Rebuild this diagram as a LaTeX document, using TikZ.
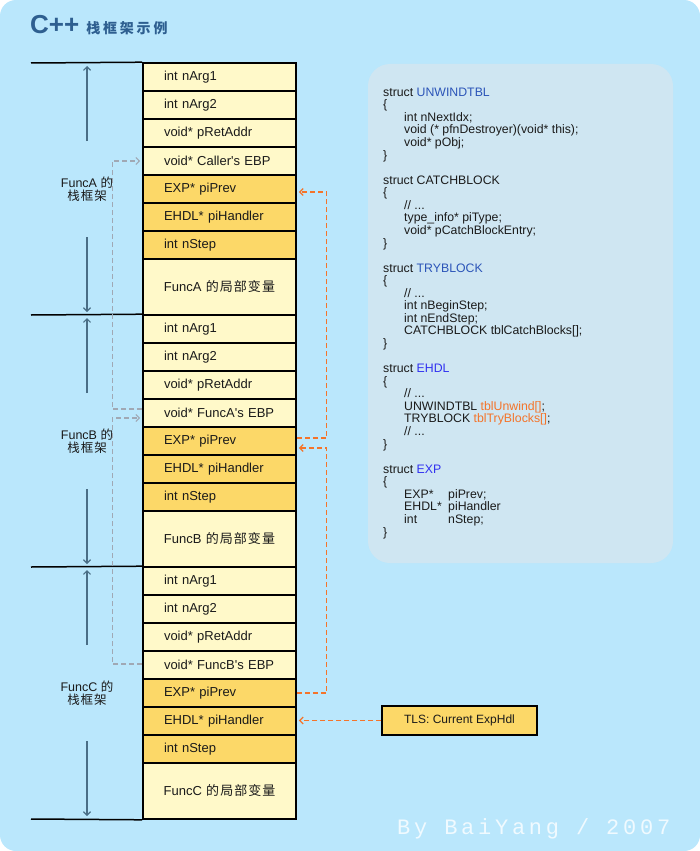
\documentclass[tikz,border=0pt]{standalone}
\usepackage{fontspec}
\setmainfont{Liberation Sans}
\newfontfamily\plainf{Liberation Sans}
\newfontfamily\cjk{Noto Sans CJK SC}
\newfontfamily\cjks[LetterSpace=8]{Noto Sans CJK SC}
\newfontfamily\cjkt[LetterSpace=20]{Noto Sans CJK SC}
\newfontfamily\wmfont[LetterSpace=17]{Liberation Mono}
\usetikzlibrary{arrows.meta}
\definecolor{bgblue}{HTML}{BAE7FC}
\definecolor{panelc}{HTML}{CFE6F2}
\definecolor{cLight}{HTML}{FFF9C9}
\definecolor{cGold}{HTML}{FCD868}
\definecolor{txt}{HTML}{1A1A1A}
\definecolor{dimc}{HTML}{4A6E86}
\definecolor{grayd}{HTML}{A0A8B4}
\definecolor{cOr}{HTML}{F4742A}
\definecolor{titlec}{HTML}{2E5F90}
\definecolor{cB1}{HTML}{2B54B8}
\definecolor{cB2}{HTML}{3030F0}
\definecolor{wmc}{HTML}{F0FAFF}
\newcommand\cind{\hspace*{21pt}}
\newcommand\apos{{\plainf'}}
\begin{document}
\begin{tikzpicture}[x=1pt,y=-1pt,
  row/.style={draw=black, line width=1.6pt, fill=cLight, minimum height=28pt,
    text width=111pt, inner xsep=21pt, inner ysep=0pt, align=left,
    font=\fontsize{13}{15}\selectfont, text=txt},
  goldrow/.style={row, fill=cGold},
  locals/.style={minimum height=56pt, text width=141pt, inner xsep=6pt, align=center},
  frameline/.style={draw=black, line width=1.5pt},
  dim/.style={draw=dimc, line width=1.2pt, -{Straight Barb[length=3.5pt,width=7pt]}},
  flabel/.style={align=center, inner sep=0pt, text=txt, font=\fontsize{12.5}{13}\selectfont},
  graydash/.style={draw=grayd, line width=1.2pt, dash pattern=on 5pt off 3pt,
    -{Straight Barb[length=3.5pt,width=7pt]}, shorten >=2pt},
  ordash/.style={draw=cOr, line width=1.3pt, dash pattern=on 5pt off 3pt,
    -{Straight Barb[length=3.5pt,width=7pt]}, shorten >=2pt},
  code/.style={anchor=north west, inner sep=0pt, align=left, text=txt,
    font=\fontsize{12.3}{12.57}\selectfont}
]
\useasboundingbox (0,0) rectangle (700,851);
\fill[white] (0,0) rectangle (700,851);
\fill[bgblue, rounded corners=16pt] (0,0) rectangle (700,851);
\fill[panelc, rounded corners=22pt] (368,64) rectangle (673,563);

% title
\node[anchor=west, inner sep=0pt, text=titlec] (title) at (30,25)
  {\fontsize{26}{26}\selectfont\bfseries C++\hspace{7pt}{\cjkt\fontsize{14}{14}\selectfont\bfseries 栈框架示例}};

% frames
\foreach \f/\T/\prev in {A/63/Caller\apos s, B/315/FuncA\apos s, C/567/FuncB\apos s}{
  \node[row] (\f1) at (219.5,\T+14) {int nArg1};
  \node[row] (\f2) at (219.5,\T+42) {int nArg2};
  \node[row] (\f3) at (219.5,\T+70) {void* pRetAddr};
  \node[row] (\f4) at (219.5,\T+98) {void* \prev\ EBP};
  \node[goldrow] (\f5) at (219.5,\T+126) {EXP* piPrev};
  \node[goldrow] (\f6) at (219.5,\T+154) {EHDL* piHandler};
  \node[goldrow] (\f7) at (219.5,\T+182) {int nStep};
  \node[row, locals] (\f8) at (219.5,\T+224) {Func\f\ {\cjks 的局部变量}};
  \coordinate (\f L) at (31,\T);
  \draw[frameline] (\f L) -- (\f1.north west);
  \node[flabel] (\f lab) at (87,\T+126.5) {Func\f\ {\cjk 的}\\{\cjks 栈框架}};
  \coordinate (\f ua) at (87,\T+78);
  \coordinate (\f u) at (87,\T+3);
  \coordinate (\f da) at (87,\T+174);
  \coordinate (\f d) at (87,\T+249);
  \draw[dim] (\f ua) -- (\f u);
  \draw[dim] (\f da) -- (\f d);
}
\coordinate (endL) at (31,819);
\draw[frameline] (endL) -- (C8.south west);

% EBP chain (gray)
\draw[graydash] ([yshift=4pt]B4.west) -- ++(-30,0) |- (A4.west);
\draw[graydash] ([yshift=1pt]C4.west) -- ++(-30,0) |- ([yshift=-5pt]B4.west);

% piPrev chain (orange)
\draw[ordash] ([yshift=3pt]B5.east) -- ++(30,0) |- ([yshift=-3pt]A5.east);
\draw[ordash] (C5.east) -- ++(30,0) |- ([yshift=-7pt]B5.east);

% TLS
\node[draw=black, line width=1.5pt, fill=cGold, minimum width=155pt, minimum height=29pt,
  inner sep=0pt, text=txt, font=\fontsize{12}{14}\selectfont] (tls) at (459.5,720.5) {TLS: Current ExpHdl};
\draw[ordash] (tls.west) -- (tls.west -| C6.east);

% code listing
\node[code] (code) at (383,87.5) {struct \textcolor{cB1}{UNWINDTBL}\\
\{\\
\cind int nNextIdx;\\
\cind void (* pfnDestroyer)(void* this);\\
\cind void* pObj;\\
\}\\[12.57pt]
struct CATCHBLOCK\\
\{\\
\cind // ...\\
\cind type\_info* piType;\\
\cind void* pCatchBlockEntry;\\
\}\\[12.57pt]
struct \textcolor{cB1}{TRYBLOCK}\\
\{\\
\cind // ...\\
\cind int nBeginStep;\\
\cind int nEndStep;\\
\cind CATCHBLOCK tblCatchBlocks[];\\
\}\\[12.57pt]
struct \textcolor{cB2}{EHDL}\\
\{\\
\cind // ...\\
\cind UNWINDTBL \textcolor{cOr}{tblUnwind[]};\\
\cind TRYBLOCK \textcolor{cOr}{tblTryBlocks[]};\\
\cind // ...\\
\}\\[12.57pt]
struct \textcolor{cB2}{EXP}\\
\{\\
\cind\makebox[44pt][l]{EXP*}piPrev;\\
\cind\makebox[44pt][l]{EHDL*}piHandler\\
\cind\makebox[44pt][l]{int}nStep;\\
\}};

% watermark
\node[anchor=base west, inner sep=0pt, text=wmc] (wm) at (397,834)
  {\wmfont\fontsize{22}{22}\selectfont By BaiYang / 2007};
\end{tikzpicture}
\end{document}
